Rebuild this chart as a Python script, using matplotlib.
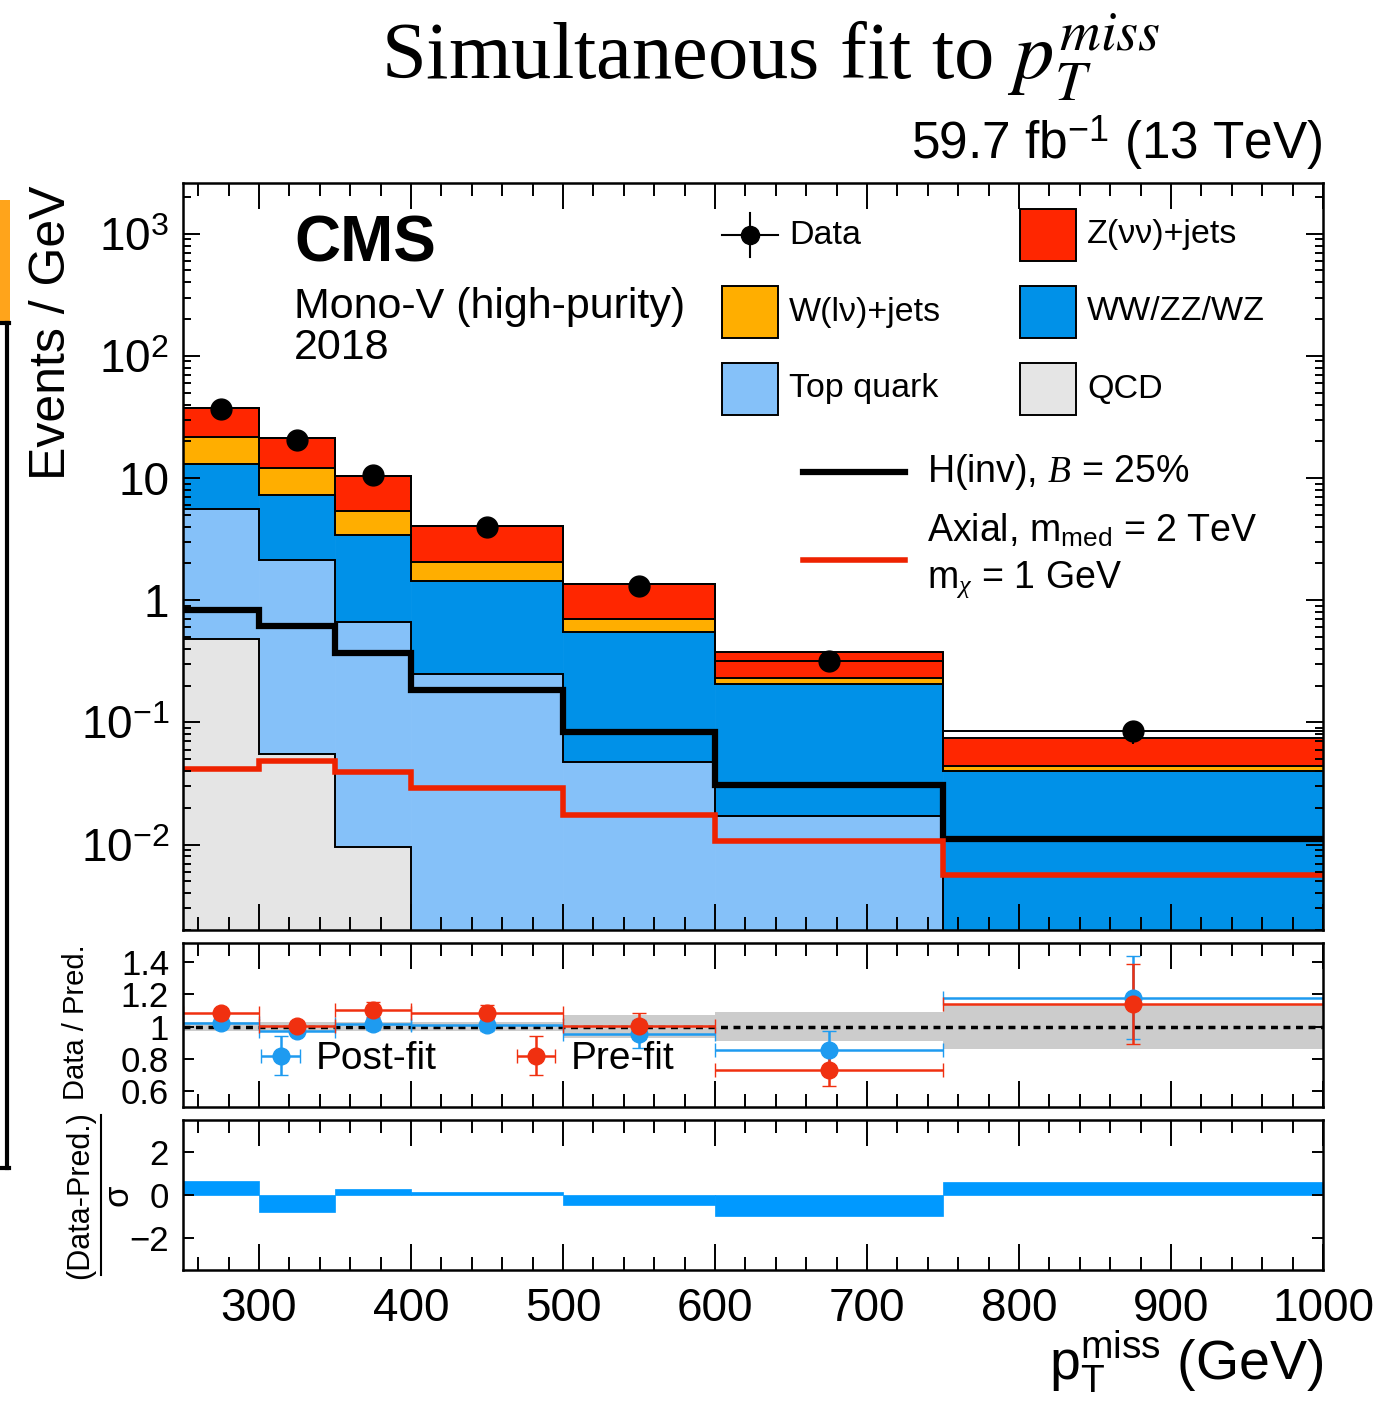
import numpy as np
import matplotlib
matplotlib.use('Agg')
import matplotlib.pyplot as plt
from matplotlib.patches import Rectangle
from matplotlib.lines import Line2D
from matplotlib.ticker import MultipleLocator, LogLocator, NullFormatter, NullLocator

plt.rcParams['font.family'] = ['Liberation Sans', 'DejaVu Sans']
plt.rcParams['mathtext.fontset'] = 'custom'
plt.rcParams['mathtext.rm'] = 'Liberation Sans'
plt.rcParams['mathtext.it'] = 'Liberation Serif:italic'
plt.rcParams['mathtext.bf'] = 'Liberation Sans:bold'
plt.rcParams['axes.linewidth'] = 1.8

# binning (GeV)
edges = [250, 300, 350, 400, 500, 600, 750, 1000]

# background yields, events / GeV
qcd = [0.48, 0.055, 0.0095, 0.0004, 0.0003, 0.0002, 0.0001]
top = [5.08, 2.07, 0.66, 0.25, 0.047, 0.017, 0.0014]
vv = [7.4, 5.1, 2.73, 1.18, 0.50, 0.19, 0.0386]
wlv = [8.6, 4.8, 1.95, 0.62, 0.16, 0.024, 0.0039]
znn = [15.7, 9.2, 4.95, 1.98, 0.64, 0.090, 0.0302]
extra = [0, 0, 0, 0, 0, 0.059, 0.0115]
extra_colors = ['#FF2600'] * 6 + ['white']

data_y = [37, 20.5, 10.5, 4.0, 1.3, 0.32, 0.085]
data_err = [0.86, 0.64, 0.46, 0.2, 0.11, 0.046, 0.018]

# signals
hinv = [0.83, 0.62, 0.368, 0.184, 0.083, 0.031, 0.0111]
axial = [0.0414, 0.0479, 0.039, 0.0293, 0.0176, 0.0107, 0.00563]

# ratio panel
post = [1.023, 0.975, 1.017, 1.01, 0.954, 0.854, 1.18]
post_err = [0.025, 0.02, 0.04, 0.04, 0.09, 0.12, 0.26]
pre = [1.083, 1.006, 1.106, 1.083, 1.006, 0.731, 1.14]
pre_err = [0.025, 0.03, 0.05, 0.05, 0.08, 0.10, 0.25]
band = [0.03, 0.03, 0.03, 0.03, 0.07, 0.09, 0.14]

# pulls
pull = [0.66, -0.77, 0.28, 0.16, -0.48, -1.0, 0.63]

C_Z = '#FF2600'
C_W = '#FFAE00'
C_VV = '#0091E8'
C_TOP = '#85C1F9'
C_QCD = '#E5E5E5'
C_POST = '#1E9BF0'
C_PRE = '#F03010'

edges = np.array(edges, dtype=float)
left = edges[:-1]
widths = np.diff(edges)
centers = left + widths / 2

W, H = 1389, 1401
fig = plt.figure(figsize=(W / 100, H / 100), dpi=100)


def fx(px):
    return px / W


def fy(py):
    return 1 - py / H


ax = fig.add_axes([fx(183), fy(930), fx(1323) - fx(183), fy(183) - fy(930)])
axr = fig.add_axes([fx(183), fy(1107), fx(1323) - fx(183), fy(943) - fy(1107)], sharex=ax)
axp = fig.add_axes([fx(183), fy(1270), fx(1323) - fx(183), fy(1120) - fy(1270)], sharex=ax)

# ---- main stacked plot
floor = 1e-6
layers = [(qcd, C_QCD), (top, C_TOP), (vv, C_VV), (wlv, C_W), (znn, C_Z), (extra, extra_colors)]
bottom = np.full(len(left), floor)
tops = []
for vals, col in layers:
    vals = np.array(vals)
    ax.bar(left, vals, width=widths, bottom=bottom, align='edge', color=col,
           edgecolor=col, linewidth=0.5)
    bottom = bottom + vals
    tops.append(bottom.copy())
for t in tops:
    ax.stairs(t, edges, baseline=None, color='k', lw=1.4)

ax.stairs(hinv, edges, baseline=None, color='k', lw=4.5)
ax.stairs(axial, edges, baseline=None, color='#EE2200', lw=4.0)

ax.errorbar(centers, data_y, yerr=data_err, fmt='o', color='k', ms=15, lw=1.5)

ax.set_yscale('log')
ax.set_xlim(250, 1000)
ax.set_ylim(0.002, 2600)
ax.set_yticks([1e-2, 1e-1, 1, 10, 100, 1000])
ax.set_yticklabels([r'$10^{-2}$', r'$10^{-1}$', '1', '10', r'$10^{2}$', r'$10^{3}$'])
ax.yaxis.set_minor_locator(LogLocator(base=10, subs=np.arange(2, 10)))
ax.yaxis.set_minor_formatter(NullFormatter())

for a in (ax, axr, axp):
    a.xaxis.set_major_locator(MultipleLocator(100))
    a.xaxis.set_minor_locator(MultipleLocator(20))
    a.tick_params(which='both', direction='in', top=True, right=True, width=1.4)
    a.tick_params(axis='x', which='major', length=19)
    a.tick_params(axis='x', which='minor', length=9.5)
    a.tick_params(axis='x', labelsize=33, pad=12)
    a.tick_params(axis='y', which='major', length=12, pad=10)
    a.tick_params(axis='y', which='minor', length=6)
ax.tick_params(axis='y', labelsize=33)
ax.tick_params(axis='x', labelbottom=False)
axr.tick_params(axis='x', labelbottom=False)


# legend drawn by hand (ROOT style layout)
def tax(px):
    return (px - 183) / 1140


def tay(py):
    return (930 - py) / 747


box_w = tax(778) - tax(722)
box_h = tay(286) - tay(338)
legend_boxes = [
    (722, 312, C_W, 'W(lν)+jets'),
    (722, 389, C_TOP, 'Top quark'),
    (1020, 235, C_Z, 'Z(νν)+jets'),
    (1020, 312, C_VV, 'WW/ZZ/WZ'),
    (1020, 389, C_QCD, 'QCD'),
]
for bx, by, col, lab in legend_boxes:
    ax.add_patch(Rectangle((tax(bx), tay(by) - box_h / 2), box_w, box_h, transform=ax.transAxes,
                           facecolor=col, edgecolor='k', lw=1.4, clip_on=False))
    ax.text(tax(bx + 67), tay(by), lab, transform=ax.transAxes, fontsize=24.5, va='center')

ax.plot([tax(722), tax(778)], [tay(235)] * 2, color='k', lw=1.5, transform=ax.transAxes)
ax.plot([tax(750)] * 2, [tay(213), tay(257)], color='k', lw=1.5, transform=ax.transAxes)
ax.plot([tax(750)], [tay(235)], 'o', color='k', ms=13, transform=ax.transAxes)
ax.text(tax(789), tay(235), 'Data', transform=ax.transAxes, fontsize=24.5, va='center')

ax.plot([tax(803), tax(905)], [tay(472)] * 2, color='k', lw=4.5, transform=ax.transAxes)
ax.text(tax(927), tay(472), r'H(inv), $B$ = 25%', transform=ax.transAxes, fontsize=27, va='center')
ax.plot([tax(803), tax(905)], [tay(560)] * 2, color='#EE2200', lw=4.0, transform=ax.transAxes)
ax.text(tax(927), tay(531), r'Axial, m$_{\mathrm{med}}$ = 2 TeV', transform=ax.transAxes,
        fontsize=27, va='center')
ax.text(tax(927), tay(580), r'm$_{\chi}$ = 1 GeV', transform=ax.transAxes, fontsize=27, va='center')

ax.text(tax(294), tay(245), 'CMS', transform=ax.transAxes, fontsize=46, fontweight='bold', va='center')
ax.text(tax(294), tay(307), 'Mono-V (high-purity)', transform=ax.transAxes, fontsize=31, va='center')
ax.text(tax(294), tay(348), '2018', transform=ax.transAxes, fontsize=31, va='center')

# ---- ratio panel
band = np.array(band)
axr.stairs(1 + band, edges, baseline=1 - band, fill=True, color='#CCCCCC', lw=0)
axr.axhline(1, color='k', lw=2.5, ls=(0, (2, 1.6)))
hpost = axr.errorbar(centers, post, xerr=widths / 2, yerr=post_err, fmt='o', color=C_POST,
                     ms=12, lw=1.8, capsize=5)
hpre = axr.errorbar(centers, pre, xerr=widths / 2, yerr=pre_err, fmt='o', color=C_PRE,
                    ms=12, lw=1.8, capsize=5)
axr.set_ylim(0.5, 1.52)
axr.set_yticks([0.6, 0.8, 1.0, 1.2, 1.4])
axr.set_yticklabels(['0.6', '0.8', '1', '1.2', '1.4'])
axr.yaxis.set_minor_locator(NullLocator())
axr.tick_params(axis='y', labelsize=25, length=8)
axr.legend([hpost, hpre], ['Post-fit', 'Pre-fit'], ncol=2, loc='center left',
           bbox_to_anchor=(0.05, 0.29), frameon=False, fontsize=28, handlelength=1.3,
           handletextpad=0.25, columnspacing=1.9, borderaxespad=0)

# ---- pull panel
axp.bar(left, pull, width=widths, align='edge', color='#0099FF', edgecolor='#0099FF', lw=0.5)
axp.set_ylim(-3.5, 3.5)
axp.set_yticks([-2, 0, 2])
axp.yaxis.set_minor_locator(NullLocator())
axp.tick_params(axis='y', labelsize=25, length=8)

# ---- labels
fig.text(fx(52), fy(185), 'Events / GeV', rotation=90, ha='center', va='top', fontsize=36)
fig.text(fx(76), fy(1022), 'Data / Pred.', rotation=90, ha='center', va='center', fontsize=21)
fig.text(fx(80), fy(1195), '(Data-Pred.)', rotation=90, ha='center', va='center', fontsize=22)
fig.add_artist(Line2D([fx(101)] * 2, [fy(1115), fy(1275)], transform=fig.transFigure, color='k', lw=1.5))
fig.text(fx(118), fy(1195), 'σ', rotation=90, ha='center', va='center', fontsize=25)

fig.text(fx(1323), fy(1380), r'p$_{\mathrm{T}}^{\mathrm{miss}}$ (GeV)', ha='right', va='baseline',
         fontsize=40)
fig.text(fx(771), fy(57), r'Simultaneous fit to $p_T^{miss}$', ha='center', va='center', fontsize=58,
         family='Liberation Serif', math_fontfamily='stix')
fig.text(fx(1323), fy(143), r'59.7 fb$^{-1}$ (13 TeV)', ha='right', va='center', fontsize=37)

# leftover edge of the neighbouring panel in the source image
fig.add_artist(Rectangle((0, fy(323)), fx(10), fy(200) - fy(323), transform=fig.transFigure,
                         color='#FFA41B', lw=0))
fig.add_artist(Line2D([fx(7)] * 2, [fy(323), fy(1168)], transform=fig.transFigure, color='k', lw=3))
fig.add_artist(Line2D([0, fx(9)], [fy(323)] * 2, transform=fig.transFigure, color='k', lw=3))
fig.add_artist(Line2D([0, fx(9)], [fy(1168)] * 2, transform=fig.transFigure, color='k', lw=3))

fig.savefig('out.png', dpi=100)
